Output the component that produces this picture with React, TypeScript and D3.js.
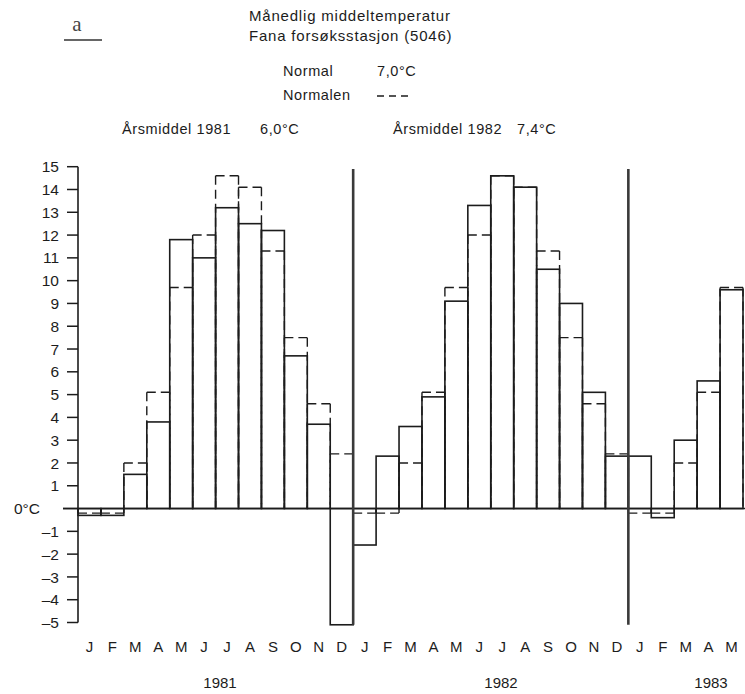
import * as d3 from 'd3';

// monthly mean temperature, Fana forsøksstasjon
const monthLetters = ['J', 'F', 'M', 'A', 'M', 'J', 'J', 'A', 'S', 'O', 'N', 'D'];
const years = ['1981', '1982', '1983'];
const temp1981 = [-0.3, -0.3, 1.5, 3.8, 11.8, 11.0, 13.2, 12.5, 12.2, 6.7, 3.7, -5.1];
const temp1982 = [-1.6, 2.3, 3.6, 4.9, 9.1, 13.3, 14.6, 14.1, 10.5, 9.0, 5.1, 2.3];
const temp1983 = [2.3, -0.4, 3.0, 5.6, 9.6];
const normal = [-0.2, -0.2, 2.0, 5.1, 9.7, 12.0, 14.6, 14.1, 11.3, 7.5, 4.6, 2.4];
const yTicks = [-5, -4, -3, -2, -1, 0, 1, 2, 3, 4, 5, 6, 7, 8, 9, 10, 11, 12, 13, 14, 15];

const W = 745;
const H = 694;
const ink = '#1c1c1c';
const font = '"Liberation Sans", Arial, sans-serif';

export default function App() {
    const series = [temp1981, temp1982, temp1983];
    const rows = series.flatMap((vals, yi) =>
        vals.map((v, m) => ({ year: years[yi], m, value: v, normal: normal[m] }))
    );
    const keys = rows.map((_, i) => i);

    const x = d3.scaleBand<number>().domain(keys).range([78, 743]).padding(0);
    const y = d3.scaleLinear().domain([-5, 15]).range([622.5, 166.7]);
    const bw = x.bandwidth();

    // a separator in front of each January after the first
    const sepX = rows
        .map((r, i) => (i > 0 && r.m === 0 ? x(i) : null))
        .filter((v) => v !== null) as number[];

    const yearLabelX = [220, 501, 711];

    return (
        <svg
            width={W}
            height={H}
            style={{ position: 'absolute', left: 0, top: 0, background: '#fff' }}
            fontFamily={font}
        >
            {/* panel letter */}
            <text x={77} y={31} textAnchor='middle' fontFamily='"Liberation Serif", serif' fontSize={21} fill='#444'>
                a
            </text>
            <line x1={64} x2={102} y1={40} y2={40} stroke='#666' strokeWidth={2.2} />

            <g fontSize={15} fill={ink} letterSpacing={0.8}>
                <text x={249} y={21}>Månedlig middeltemperatur</text>
                <text x={249} y={41}>Fana forsøksstasjon (5046)</text>
            </g>
            <g fontSize={14.5} fill={ink} letterSpacing={0.6}>
                <text x={283} y={76}>Normal</text>
                <text x={377} y={76}>7,0°C</text>
                <text x={283} y={100}>Normalen</text>
                <text x={122} y={134}>Årsmiddel 1981</text>
                <text x={260} y={134}>6,0°C</text>
                <text x={393} y={134}>Årsmiddel 1982</text>
                <text x={517} y={134}>7,4°C</text>
            </g>
            <line x1={377} x2={409} y1={96} y2={96} stroke={ink} strokeWidth={1.3} strokeDasharray='7,5' />

            {/* y axis */}
            <line x1={78} x2={78} y1={y(15)} y2={y(-5)} stroke={ink} strokeWidth={1.6} />
            {yTicks.map((t) => (
                <g key={t}>
                    <line x1={t === 0 ? 63 : 67} x2={78} y1={y(t)} y2={y(t)} stroke={ink} strokeWidth={1.5} />
                    {t !== 0 && (
                        <text
                            x={59}
                            y={y(t)}
                            dy='0.36em'
                            textAnchor='end'
                            fontSize={15.5}
                            fill={ink}
                        >
                            {t < 0 ? `\u2013${-t}` : t}
                        </text>
                    )}
                </g>
            ))}
            <text x={40} y={y(0)} dy='0.36em' textAnchor='end' fontSize={15.5} fill={ink}>
                0°C
            </text>

            {/* normals, dashed */}
            <g stroke={ink} strokeWidth={1.4} strokeDasharray='9,5' fill='none'>
                {rows.map((r, i) => {
                    const x0 = x(i)!;
                    const yn = y(r.normal);
                    const y0 = y(0);
                    return (
                        <g key={`n-${i}`}>
                            <line x1={x0} x2={x0 + bw} y1={yn} y2={yn} />
                            <line x1={x0} x2={x0} y1={yn} y2={y0} />
                            <line x1={x0 + bw} x2={x0 + bw} y1={yn} y2={y0} />
                        </g>
                    );
                })}
            </g>

            {/* actual monthly means */}
            <g stroke={ink} strokeWidth={1.6} fill='none'>
                {rows.map((r, i) => (
                    <rect
                        key={`b-${i}`}
                        x={x(i)}
                        y={Math.min(y(r.value), y(0))}
                        width={bw}
                        height={Math.abs(y(r.value) - y(0))}
                    />
                ))}
            </g>

            {/* zero line */}
            <line x1={63} x2={745} y1={y(0)} y2={y(0)} stroke={ink} strokeWidth={1.6} />

            {/* year separators */}
            {sepX.map((sx) => (
                <line
                    key={`s-${sx}`}
                    x1={sx}
                    x2={sx}
                    y1={y(14.9)}
                    y2={y(-5.1)}
                    stroke='#3a3a3a'
                    strokeWidth={2.6}
                />
            ))}

            {/* month letters and years */}
            <g fontSize={15} fill={ink} textAnchor='middle'>
                {rows.map((r, i) => (
                    <text key={`m-${i}`} x={x(i)! + bw / 2} y={652}>
                        {monthLetters[r.m]}
                    </text>
                ))}
                {years.map((yr, j) => (
                    <text key={yr} x={yearLabelX[j]} y={688}>
                        {yr}
                    </text>
                ))}
            </g>
        </svg>
    );
}
